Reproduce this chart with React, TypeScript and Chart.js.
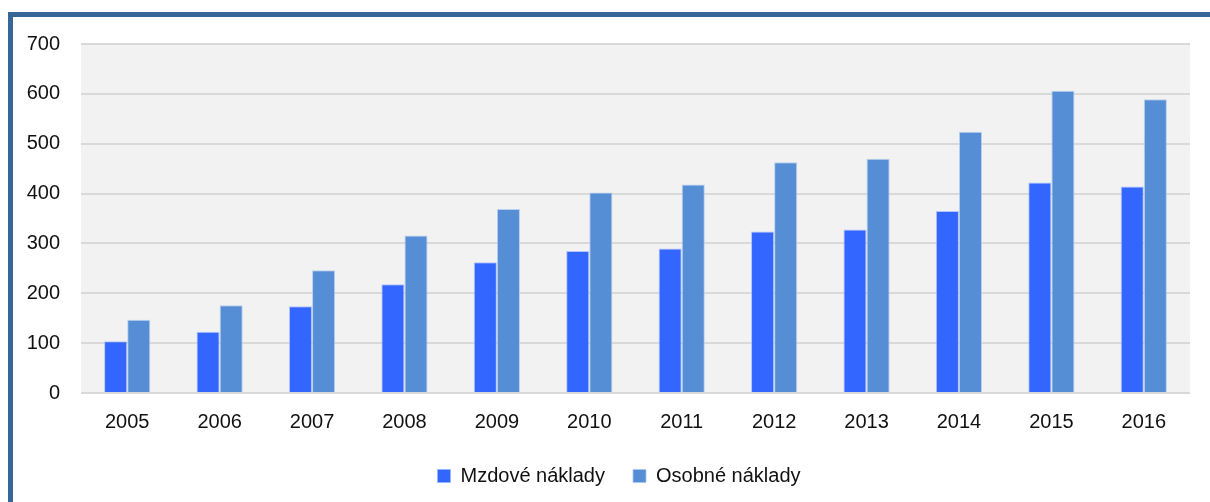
import React, { useEffect, useRef } from "react";
import { Chart, registerables } from "chart.js";

Chart.register(...registerables);

const years = ["2005", "2006", "2007", "2008", "2009", "2010", "2011", "2012", "2013", "2014", "2015", "2016"];
const mzdoveNaklady = [104, 123, 174, 218, 262, 285, 290, 324, 328, 365, 422, 414];
const osobneNaklady = [147, 176, 246, 316, 369, 402, 418, 463, 470, 524, 606, 589];
const seriesNames = ["Mzdové náklady", "Osobné náklady"];
const yTicks = [0, 100, 200, 300, 400, 500, 600, 700];

const FONT = '"Liberation Sans", Arial, sans-serif';

const plotBg = {
  id: "plotBg",
  beforeDraw(chart: any) {
    const { ctx, chartArea } = chart;
    ctx.save();
    ctx.fillStyle = "#f2f2f2";
    ctx.fillRect(chartArea.left, chartArea.top, chartArea.right - chartArea.left, chartArea.bottom - chartArea.top);
    ctx.restore();
  },
};

const legendShift = {
  id: "legendShift",
  afterLayout(chart: any) {
    const lg = chart.legend;
    if (lg) {
      lg.left += 14;
      lg.right += 14;
    }
  },
};

export default function App() {
  const ref = useRef<HTMLCanvasElement | null>(null);
  useEffect(() => {
    document.body.style.margin = "0";
    document.body.style.overflow = "hidden";
    const chart = new Chart(ref.current as HTMLCanvasElement, {
      type: "bar",
      data: {
        labels: years,
        datasets: [
          {
            label: seriesNames[0],
            data: mzdoveNaklady,
            backgroundColor: "#3366ff",
            borderColor: "rgba(150,180,255,0.7)",
            borderWidth: 1,
            categoryPercentage: 0.5,
            barPercentage: 1,
          },
          {
            label: seriesNames[1],
            data: osobneNaklady,
            backgroundColor: "#558ed5",
            borderColor: "rgba(170,200,240,0.8)",
            borderWidth: 1,
            categoryPercentage: 0.5,
            barPercentage: 1,
          },
        ],
      },
      options: {
        animation: false,
        responsive: false,
        maintainAspectRatio: false,
        layout: { padding: { left: 20, right: 20, top: 44, bottom: 6 } },
        plugins: {
          tooltip: { enabled: false },
          legend: {
            position: "bottom",
            labels: {
              color: "#111",
              font: { family: FONT, size: 20 },
              boxWidth: 13,
              boxHeight: 13,
              padding: 28,
            },
          },
        },
        scales: {
          x: {
            grid: { display: false, drawTicks: false },
            border: { display: false },
            ticks: { color: "#111", font: { family: FONT, size: 20 }, padding: 17, maxRotation: 0 },
            afterFit(scale: any) {
              scale.height = 45;
            },
          },
          y: {
            min: 0,
            max: 700,
            afterBuildTicks(scale: any) {
              scale.ticks = yTicks.map((v) => ({ value: v }));
            },
            grid: { color: "#d9d9d9", lineWidth: 2, drawTicks: false },
            border: { display: false },
            ticks: { color: "#111", font: { family: FONT, size: 20 }, padding: 21 },
            afterFit(scale: any) {
              scale.width = 61;
            },
          },
        },
      },
      plugins: [plotBg, legendShift],
    });
    return () => chart.destroy();
  }, []);

  return (
    <div style={{ position: "relative", width: 1210, height: 502, overflow: "hidden", background: "#fff" }}>
      <div
        style={{
          position: "absolute",
          left: 8,
          top: 12,
          width: 1220,
          height: 510,
          borderTop: "5px solid #376699",
          borderLeft: "5px solid #376699",
        }}
      />
      <canvas ref={ref} width={1210} height={502} style={{ position: "absolute", left: 0, top: 0 }} />
    </div>
  );
}
